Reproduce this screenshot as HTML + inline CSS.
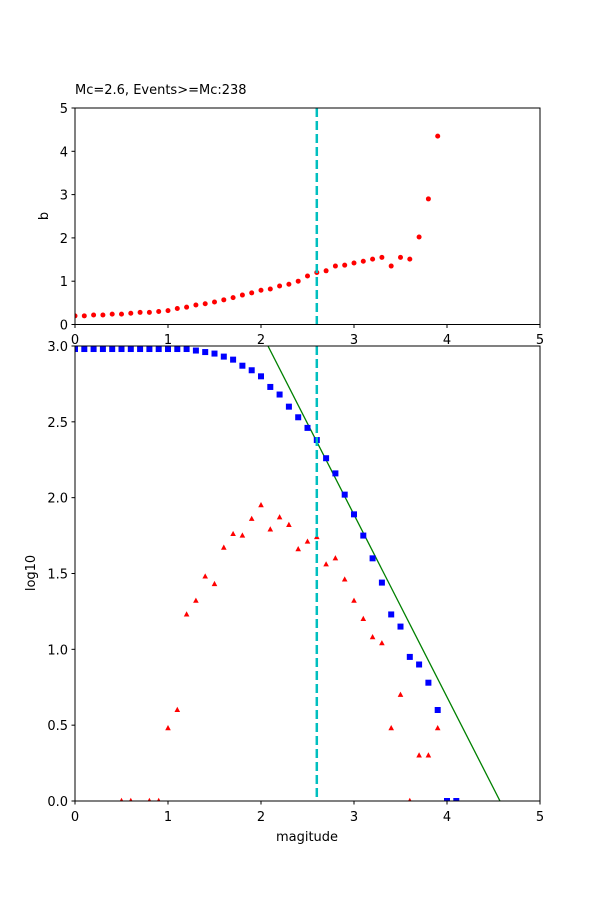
<!DOCTYPE html>
<html><head><meta charset="utf-8"><style>body{margin:0;background:#fff}svg{display:block}text{font-family:"DejaVu Sans","Liberation Sans",sans-serif;font-size:13px;fill:#000}</style></head>
<body>
<svg id="s" width="600" height="900" xmlns="http://www.w3.org/2000/svg">
<rect width="600" height="900" fill="#fff"/>
<text x="75" y="94">Mc=2.6, Events&gt;=Mc:238</text>
<text transform="translate(48,216) rotate(-90)" text-anchor="middle">b</text>
<text transform="translate(35,573) rotate(-90)" text-anchor="middle">log10</text>
<text x="307" y="841" text-anchor="middle">magitude</text>
<g id="g"></g>
</svg>
<script>
var g=document.getElementById('g'),h='';
function X(m){return 75+m*93;}
function YT(v){return 324.5-v*43.3;}
function YB(v){return 801-v*151.67;}
// top series
var b=[0.2,0.2,0.22,0.22,0.24,0.24,0.26,0.28,0.28,0.3,0.32,0.37,0.4,0.45,0.48,0.52,0.57,0.62,0.68,0.73,0.79,0.82,0.89,0.93,1.0,1.12,1.2,1.24,1.35,1.37,1.42,1.46,1.51,1.55,1.35,1.55,1.51,2.02,2.9,4.35];
h+='<svg x="75" y="108" width="465" height="217" overflow="hidden"><g transform="translate(-75,-108)">';
b.forEach(function(v,i){h+='<circle cx="'+X(i/10)+'" cy="'+YT(v)+'" r="2.5" fill="#f00"/>';});
h+='</g></svg>';
h+='<line x1="'+X(2.6)+'" y1="108" x2="'+X(2.6)+'" y2="324.5" stroke="#00bfbf" stroke-width="2.5" stroke-dasharray="9,4"/>';
h+='<rect x="75" y="108" width="465" height="216.5" fill="none" stroke="#000" stroke-width="1"/>';
for(var i=0;i<=5;i++){h+='<line x1="'+X(i)+'" y1="324.5" x2="'+X(i)+'" y2="328" stroke="#000"/><text x="'+X(i)+'" y="344" text-anchor="middle">'+i+'</text>';
h+='<line x1="71.5" y1="'+YT(i)+'" x2="75" y2="'+YT(i)+'" stroke="#000"/><text x="68" y="'+(YT(i)+5)+'" text-anchor="end">'+i+'</text>';}
// bottom
var bl={};var bv=[2.98,2.98,2.98,2.98,2.98,2.98,2.98,2.98,2.98,2.98,2.98,2.98,2.98,2.97,2.96,2.95,2.93,2.91,2.87,2.84,2.8,2.73,2.68,2.6,2.53,2.46,2.38,2.26,2.16,2.02,1.89,1.75,1.6,1.44,1.23,1.15,0.95,0.9,0.78,0.6,0,0];
var rt={5:0,6:0,8:0,9:0,10:0.48,11:0.6,12:1.23,13:1.32,14:1.48,15:1.43,16:1.67,17:1.76,18:1.75,19:1.86,20:1.95,21:1.79,22:1.87,23:1.82,24:1.66,25:1.71,26:1.74,27:1.56,28:1.6,29:1.46,30:1.32,31:1.2,32:1.08,33:1.04,34:0.48,35:0.7,36:0,37:0.3,38:0.3,39:0.48};
h+='<svg x="75" y="346" width="465" height="455" overflow="hidden"><g transform="translate(-75,-346)">';
h+='<line x1="'+X(2.075)+'" y1="'+YB(3)+'" x2="'+X(4.57)+'" y2="'+YB(0)+'" stroke="#008000" stroke-width="1.3"/>';
bv.forEach(function(v,i){if(i==39){}var x=X(i/10),y=YB(v);h+='<rect x="'+(x-3)+'" y="'+(y-3)+'" width="6" height="6" fill="#00f"/>';});
for(var k in rt){var x=X(k/10),y=YB(rt[k]);h+='<polygon points="'+x+','+(y-3.2)+' '+(x-2.8)+','+(y+2)+' '+(x+2.8)+','+(y+2)+'" fill="#f00"/>';}
h+='</g></svg>';
h+='<line x1="'+X(2.6)+'" y1="346" x2="'+X(2.6)+'" y2="801" stroke="#00bfbf" stroke-width="2.5" stroke-dasharray="9,4"/>';
h+='<rect x="75" y="346" width="465" height="455" fill="none" stroke="#000" stroke-width="1"/>';
for(var i=0;i<=5;i++){h+='<line x1="'+X(i)+'" y1="801" x2="'+X(i)+'" y2="804.5" stroke="#000"/><text x="'+X(i)+'" y="821" text-anchor="middle">'+i+'</text>';}
for(var j=0;j<=6;j++){var v=j*0.5;h+='<line x1="71.5" y1="'+YB(v)+'" x2="75" y2="'+YB(v)+'" stroke="#000"/><text x="68" y="'+(YB(v)+5)+'" text-anchor="end">'+v.toFixed(1)+'</text>';}
g.innerHTML=h;
</script>
</body></html>
